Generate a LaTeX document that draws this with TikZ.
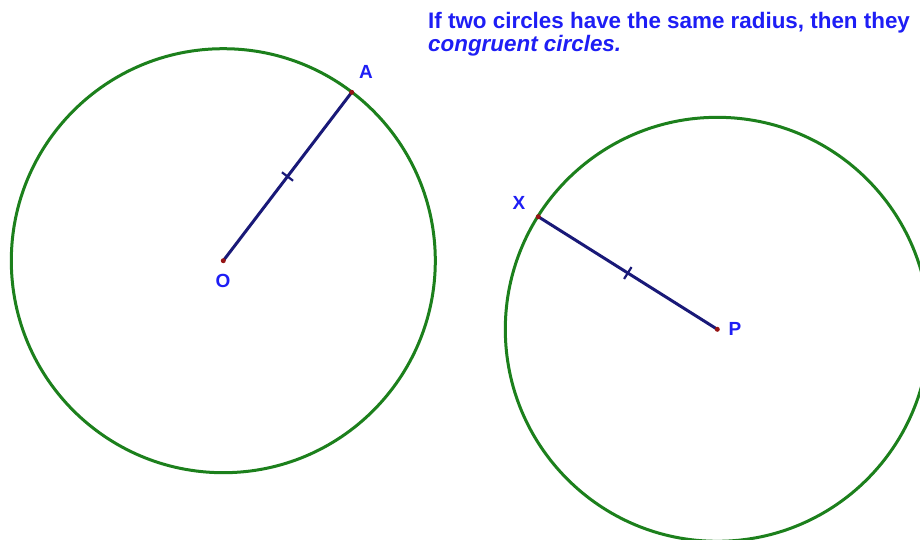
\documentclass[tikz,border=0pt]{standalone}
\usepackage{fontspec}
\setmainfont{Liberation Sans}
\usetikzlibrary{calc}
\definecolor{circgreen}{RGB}{28,128,28}
\definecolor{segnavy}{RGB}{25,25,120}
\definecolor{labblue}{RGB}{30,30,245}
\definecolor{ptred}{RGB}{150,20,20}
\begin{document}
\begin{tikzpicture}[x=1pt,y=-1pt,
  circ/.style={draw=circgreen,line width=3pt},
  seg/.style={draw=segnavy,line width=3pt},
  tick/.style={draw=segnavy,line width=2.2pt},
  pt/.style={circle,fill=ptred,inner sep=0pt,minimum size=5pt},
  lab/.style={text=labblue,font=\bfseries\fontsize{19pt}{19pt}\selectfont,inner sep=0pt}]
\useasboundingbox (0,0) rectangle (920,539);
\fill[white] (0,0) rectangle (920,539);
\begin{scope}
\clip (0,0) rectangle (920,539);
\coordinate (O) at (223.3,260.7);
\coordinate (A) at (351.7,92.3);
\coordinate (P) at (717.3,329.3);
\coordinate (X) at (538.3,216.7);
\draw[circ] (O) circle (212);
\draw[circ] (P) circle (212);
\draw[seg] (O) -- (A);
\draw[seg] (P) -- (X);
\path (O) -- (A) coordinate[pos=0.5] (mOA);
\path (P) -- (X) coordinate[pos=0.5] (mPX);
\draw[tick] ($(mOA)!7pt!90:(A)$) -- ($(mOA)!7pt!-90:(A)$);
\draw[tick] ($(mPX)!7pt!90:(X)$) -- ($(mPX)!7pt!-90:(X)$);
\node[pt] (nO) at (O) {};
\node[pt] (nA) at (A) {};
\node[pt] (nP) at (P) {};
\node[pt] (nX) at (X) {};
\node[lab] (lA) at (366,72) {A};
\node[lab] (lO) at (223,281) {O};
\node[lab] (lX) at (519,203) {X};
\node[lab] (lP) at (735,329) {P};
\node[anchor=base west,inner sep=0pt,text=labblue,font=\bfseries\fontsize{22.4pt}{23pt}\selectfont] (t1) at (428,28) {If two circles have the same radius, then they};
\node[anchor=base west,inner sep=0pt,text=labblue,font=\bfseries\itshape\fontsize{22.4pt}{23pt}\selectfont] (t2) at (428,51) {congruent circles.};
\end{scope}
\end{tikzpicture}
\end{document}
